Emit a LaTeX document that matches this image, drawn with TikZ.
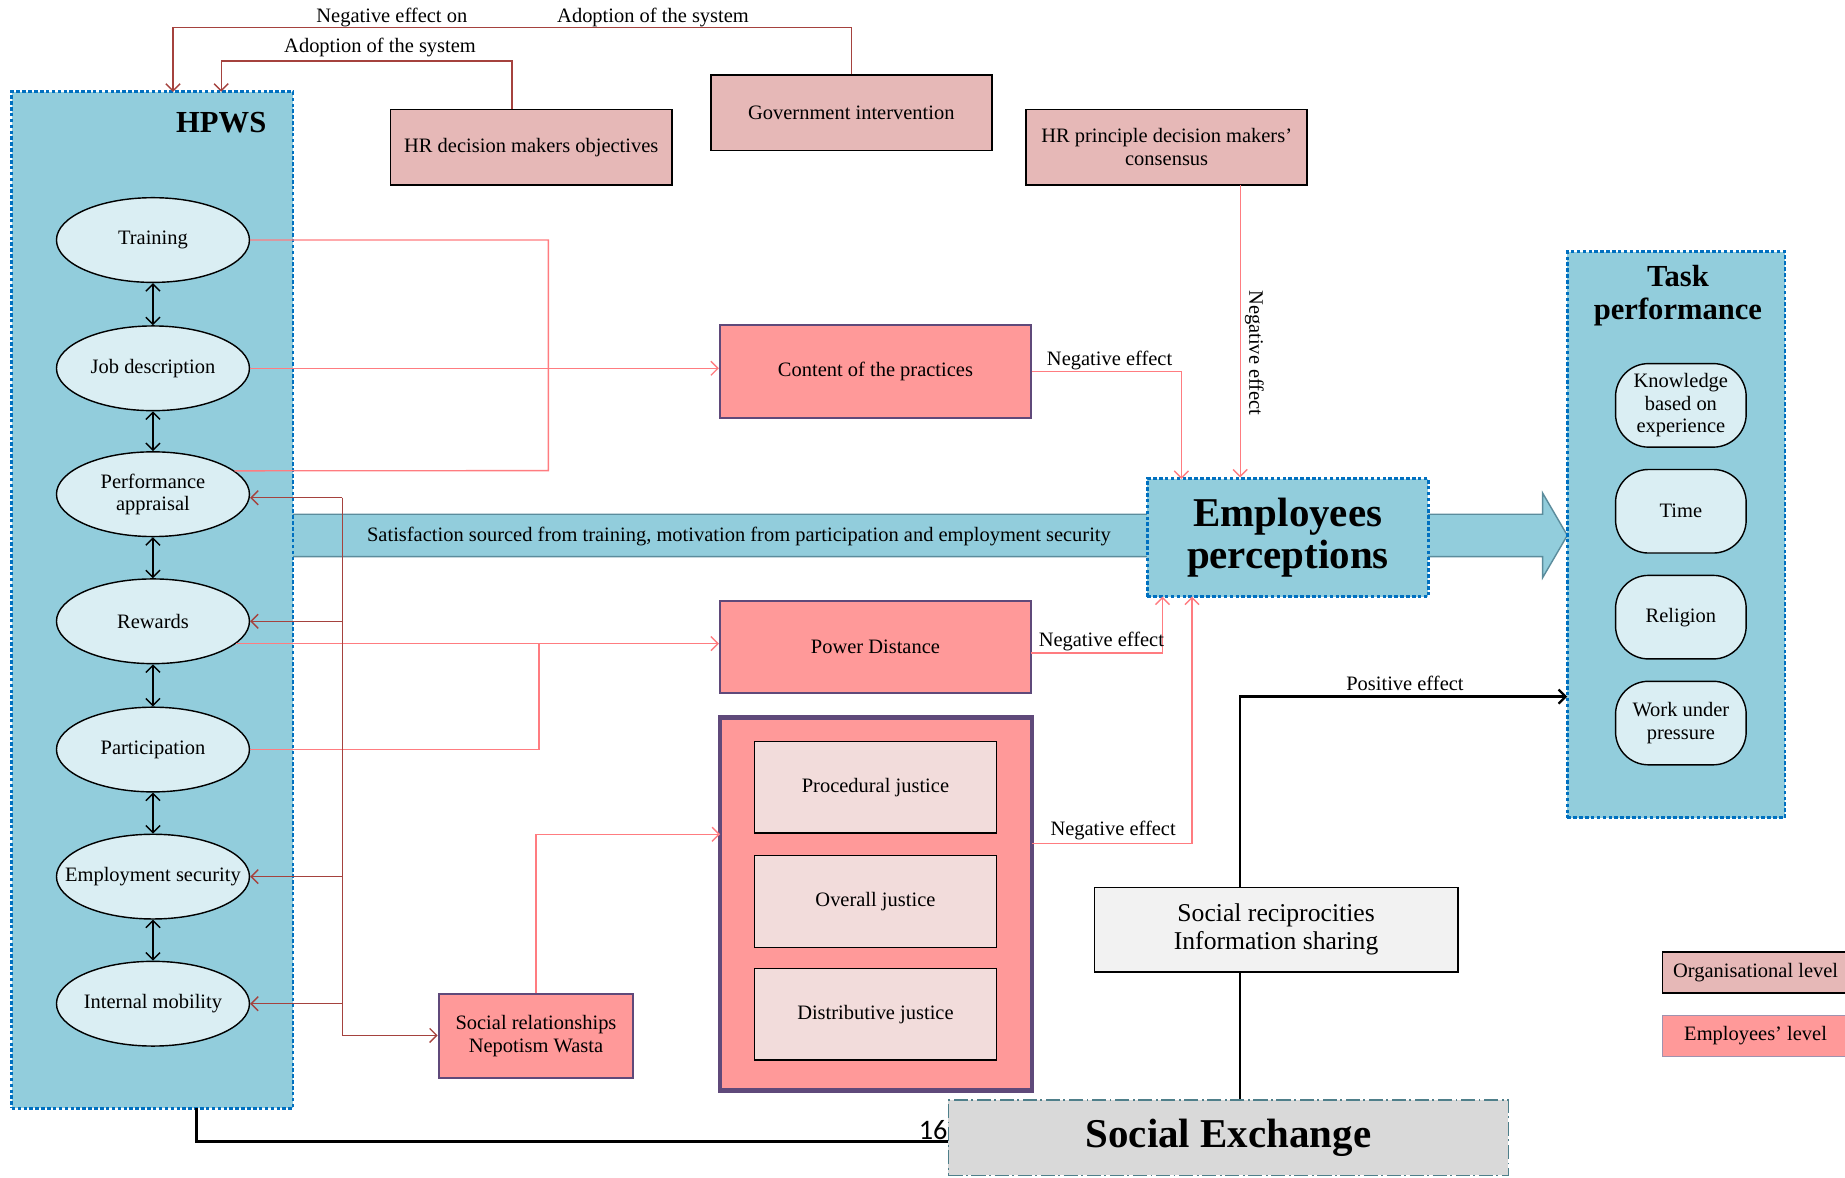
\documentclass[tikz,border=0pt]{standalone}
\usepackage{fontspec}
\setmainfont{Liberation Serif}
\newfontfamily\pagenumfont{Carlito}
\usetikzlibrary{shapes.geometric,arrows.meta,calc}

\definecolor{hpwsfill}{HTML}{92CDDC}
\definecolor{dotblue}{HTML}{0070C0}
\definecolor{ovalfill}{HTML}{DAEEF3}
\definecolor{orgfill}{HTML}{E6B8B7}
\definecolor{empfill}{HTML}{FF9999}
\definecolor{purpleedge}{HTML}{5F497A}
\definecolor{justfill}{HTML}{F2DCDB}
\definecolor{pinkline}{HTML}{FF7C80}
\definecolor{brownline}{HTML}{A5423E}
\definecolor{bandedge}{HTML}{5B8C9C}
\definecolor{recipfill}{HTML}{F2F2F2}
\definecolor{exfill}{HTML}{D9D9D9}
\definecolor{exedge}{HTML}{4F7F8A}

\tikzset{
  base/.style={font=\fontsize{8.7}{9.5}\selectfont, inner sep=0pt, align=center},
  container/.style={draw=dotblue, fill=hpwsfill, line width=1.2pt, dash pattern=on 1.5pt off 1pt, inner sep=0pt},
  practice/.style={ellipse, draw=black, fill=ovalfill, line width=0.6pt, minimum width=82pt, minimum height=36pt, inner sep=0pt},
  trait/.style={base, rectangle, rounded corners=14pt, draw=black, fill=ovalfill, line width=0.6pt, minimum width=55.5pt, minimum height=35.5pt},
  orgbox/.style={base, draw=black, fill=orgfill, line width=0.7pt},
  empbox/.style={base, draw=purpleedge, fill=empfill, line width=1pt},
  justbox/.style={draw=purpleedge, fill=empfill, line width=2pt, inner sep=0pt},
  innerbox/.style={base, draw=black, fill=justfill, line width=0.6pt, minimum width=103pt, minimum height=39pt},
  tip/.style={-{Straight Barb[length=3pt,width=6pt]}},
  pinkedge/.style={draw=pinkline, line width=0.6pt},
  pinkarrow/.style={pinkedge, tip},
  brownedge/.style={draw=brownline, line width=0.6pt},
  brownarrow/.style={brownedge, tip},
  blackedge/.style={draw=black, line width=1pt},
  blackarrow/.style={blackedge, tip},
  dblarrow/.style={draw=black, line width=0.6pt, {Straight Barb[length=3pt,width=6pt]}-{Straight Barb[length=3pt,width=6pt]}},
}

\begin{document}
\begin{tikzpicture}[x=0.5pt,y=-0.5pt]
\useasboundingbox (0,0) rectangle (1568,1001);

% broad arrow from HPWS through the perceptions box to task performance
\draw[fill=hpwsfill, draw=bandedge, line width=0.6pt]
  (245,437) -- (1311,437) -- (1311,419) -- (1332,455) -- (1311,491) -- (1311,473) -- (245,473) -- cycle;
\node[base] (band) at (628,456) {Satisfaction sourced from training, motivation from participation and employment security};

% HPWS container and its practices
\node[container, minimum width=119.5pt, minimum height=432pt] (hpws) at (129.5,510) {};
\node[font=\bfseries\fontsize{13}{15}\selectfont, inner sep=0pt] (hpwstitle) at (188,104) {HPWS};

\foreach \n/\y/\t in {tr/204/{Training}, jd/313/{Job description}, pa/420/{Performance\\appraisal},
                      rw/528/{Rewards}, pt/637/{Participation}, es/745/{Employment security},
                      im/853/{Internal mobility}} {
  \node[practice] (\n) at (130,\y) {};
  \node[base] (\n-t) at (130,\y) {\t};
}
\foreach \a/\b in {tr/jd, jd/pa, pa/rw, rw/pt, pt/es, es/im}
  \draw[dblarrow] (\a.south) -- (\b.north);

% organisational level boxes
\node[orgbox, minimum width=119.5pt, minimum height=32pt] (gov) at (723.5,96) {Government intervention};
\node[orgbox, minimum width=119.5pt, minimum height=32pt] (hrobj) at (451.5,125) {HR decision makers objectives};
\node[orgbox, minimum width=119.5pt, minimum height=32pt] (hrp) at (991.5,125) {HR principle decision makers’\\consensus};

% employees level boxes
\node[empbox, minimum width=132pt, minimum height=39.5pt] (cp) at (744,315.5) {Content of the practices};
\node[empbox, minimum width=132pt, minimum height=39pt] (pd) at (744,550) {Power Distance};
\node[empbox, minimum width=82.5pt, minimum height=35.5pt] (sr) at (455.5,880.5) {Social relationships\\Nepotism Wasta};

\node[justbox, minimum width=132.5pt, minimum height=158.5pt] (jb) at (744.5,768.5) {};
\node[innerbox] (pj) at (744,669) {Procedural justice};
\node[innerbox] (oj) at (744,766) {Overall justice};
\node[innerbox] (dj) at (744,862) {Distributive justice};

% employees perceptions
\node[container, minimum width=119.5pt, minimum height=50pt, align=center,
      font=\bfseries\fontsize{17.4}{18}\selectfont] (emp) at (1094.5,457) {Employees\\perceptions};

% task performance
\node[container, minimum width=92.5pt, minimum height=240.5pt] (task) at (1424.5,454.5) {};
\node[font=\bfseries\fontsize{13}{14}\selectfont, align=center, inner sep=0pt] (tasktitle) at (1426,251) {Task\\performance};
\node[trait] (kn) at (1428.5,344.5) {Knowledge\\based on\\experience};
\node[trait] (tm) at (1428.5,434.5) {Time};
\node[trait] (rl) at (1428.5,524.5) {Religion};
\node[trait] (wp) at (1428.5,614.5) {Work under\\pressure};

% social exchange
\node[base, draw=black, fill=recipfill, line width=0.6pt, minimum width=154.5pt, minimum height=36pt,
      font=\fontsize{10.9}{12}\selectfont] (rec) at (1084.5,790) {Social reciprocities\\Information sharing};
\node[draw=exedge, fill=exfill, line width=0.6pt, dash pattern=on 6pt off 1.5pt on 0.8pt off 1.5pt,
      minimum width=238pt, minimum height=32pt, inner sep=0pt,
      font=\bfseries\fontsize{17.4}{18}\selectfont] (sx) at (1044,967) {Social Exchange};

% legend
\node[orgbox, minimum width=79pt, minimum height=17.5pt] (legorg) at (1492,826.5) {Organisational level};
\node[base, draw=purpleedge!60, fill=empfill, line width=0.7pt, minimum width=79pt, minimum height=17.5pt] (legemp) at (1492,880.5) {Employees’ level};

% organisational influences on HPWS
\coordinate (hpwsIn1) at (147,78);
\coordinate (hpwsIn2) at (188,78);
\coordinate (hrobjOut) at (435,93);
\draw[brownarrow] (gov.north) -- ++(0,-40) -| (hpwsIn1);
\draw[brownarrow] (hrobjOut) -- ++(0,-41) -| (hpwsIn2);
\node[base] (lblNegOn) at (333,15) {Negative effect on};
\node[base] (lblAdopt1) at (555,15) {Adoption of the system};
\node[base] (lblAdopt2) at (323,40) {Adoption of the system};

% consensus to perceptions
\coordinate (hrpOut) at (1054,157);
\draw[pinkarrow] (hrpOut) -- (hrpOut |- emp.north);
\node[base, rotate=-90] (lblNegV) at (1066,300) {Negative effect};

% practices feeding the content of the practices
\coordinate (tjoin) at (466,400);
\draw[pinkedge] (tr.east) -| (tjoin) -- (pa.16);
\draw[pinkarrow] (jd.east) -- (jd.east -| cp.west);
\coordinate (empIn1) at (1004,407);
\draw[pinkarrow] (cp.east) -| (empIn1);
\node[base] (lblNeg1) at (943,306) {Negative effect};

% rewards and participation into power distance
\draw[pinkarrow] (rw.-15) -- (rw.-15 -| pd.west);
\coordinate (pjoin) at (458,547);
\draw[pinkedge] (pt.east) -| (pjoin);
\coordinate (pdOut) at (876,555);
\coordinate (empIn2) at (988,507);
\draw[pinkarrow] (pdOut) -| (empIn2);
\node[base] (lblNeg2) at (936,545) {Negative effect};

% justice into perceptions
\coordinate (jbOut) at (877,717);
\coordinate (empIn3) at (1013,507);
\draw[pinkarrow] (jbOut) -| (empIn3);
\node[base] (lblNeg3) at (946,706) {Negative effect};
\coordinate (jbIn) at (612,709);
\draw[pinkarrow] (sr.north) |- (jbIn);

% social relationships bus
\coordinate (busTop) at (291,423);
\coordinate (busBot) at (291,880);
\draw[brownedge] (busTop) -- (busBot);
\draw[brownarrow] (busTop) -- (busTop -| pa.east);
\draw[brownarrow] (rw.east -| busTop) -- (rw.east);
\draw[brownarrow] (es.east -| busTop) -- (es.east);
\draw[brownarrow] (im.east -| busTop) -- (im.east);
\draw[brownarrow] (busBot) -- (busBot -| sr.west);

% social exchange links
\coordinate (recOut) at (1054,754);
\coordinate (taskIn) at (1332,592);
\draw[blackarrow] (recOut) |- (taskIn);
\node[base] (lblPos) at (1194,581) {Positive effect};
\coordinate (recBot) at (1054,826);
\draw[blackedge] (recBot) -- (recBot |- sx.north);
\coordinate (hpwsOut) at (167,942);
\coordinate (sxIn) at (806,970);
\draw[blackedge] (hpwsOut) |- (sxIn);
\node[font=\pagenumfont\fontsize{12}{12}\selectfont, inner sep=0pt, anchor=base] (pagenum) at (793,968) {16};

\end{tikzpicture}
\end{document}
